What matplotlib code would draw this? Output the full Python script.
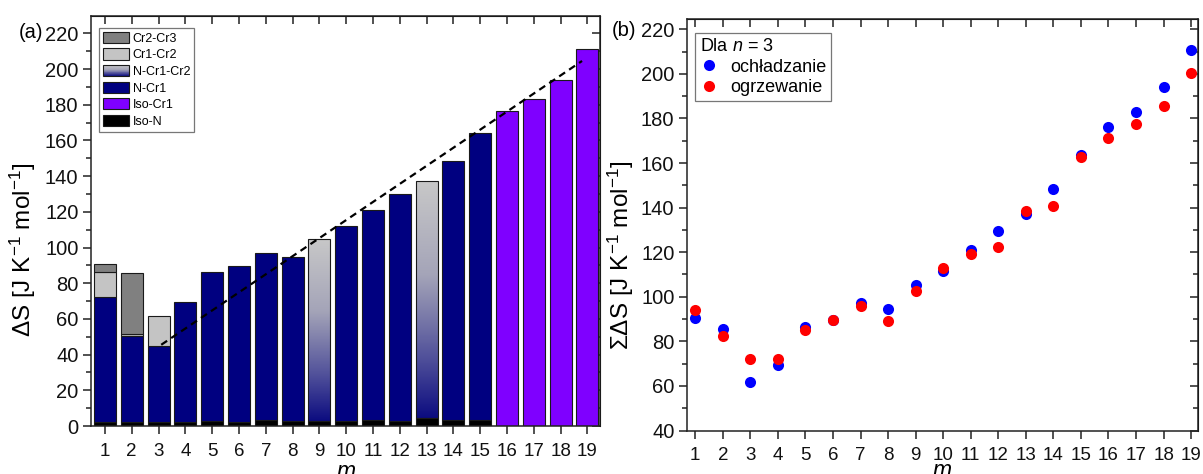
import numpy as np
import matplotlib
matplotlib.use("Agg")
import matplotlib.pyplot as plt
from matplotlib.patches import Patch, Rectangle
from matplotlib.colors import LinearSegmentedColormap
from matplotlib.legend_handler import HandlerBase
from matplotlib.ticker import MultipleLocator

plt.rcParams['font.family'] = ['Liberation Sans', 'DejaVu Sans']
plt.rcParams['mathtext.fontset'] = 'custom'
plt.rcParams['mathtext.rm'] = 'Liberation Sans'
plt.rcParams['mathtext.it'] = 'Liberation Sans:italic'

# ---- data -------------------------------------------------------------
m = np.arange(1, 20)

# stacked entropy contributions [J K^-1 mol^-1]
iso_n     = [2.0, 2.0, 2.5, 2.5, 3.0, 2.5, 3.5, 3.0, 3.0, 3.0, 3.5, 3.0, 4.5, 3.5, 3.5, 0, 0, 0, 0]
n_cr1     = [70.5, 48.5, 42.5, 67.0, 83.0, 87.0, 93.5, 91.5, 0, 109.0, 117.5, 127.0, 0, 145.0, 160.5, 0, 0, 0, 0]
n_cr1_cr2 = [0, 0, 0, 0, 0, 0, 0, 0, 102.0, 0, 0, 0, 133.0, 0, 0, 0, 0, 0, 0]
cr1_cr2   = [13.5, 1.3, 16.5, 0, 0, 0, 0, 0, 0, 0, 0, 0, 0, 0, 0, 0, 0, 0, 0]
cr2_cr3   = [4.5, 33.7, 0, 0, 0, 0, 0, 0, 0, 0, 0, 0, 0, 0, 0, 0, 0, 0, 0]
iso_cr1   = [0, 0, 0, 0, 0, 0, 0, 0, 0, 0, 0, 0, 0, 0, 0, 176.2, 183.3, 194.0, 211.0]

# trend line for the N-Cr1 branch
trend_m  = [3.1, 18.8]
trend_dS = [45.5, 204.5]

# total entropy for n = 3
cooling = [90.5, 85.5, 61.8, 69.3, 86.5, 89.5, 97.3, 94.6, 105.3, 111.5,
           121.0, 129.5, 137.0, 148.3, 163.8, 176.0, 183.0, 194.0, 210.5]
heating = [94.0, 82.2, 72.0, 72.0, 85.0, 89.5, 95.8, 89.2, 102.7, 112.8,
           119.3, 122.5, 138.3, 140.7, 162.5, 171.0, 177.5, 185.5, 200.5]

# ---- styling ------------------------------------------------------------
C_CR23 = '#808080'
C_CR12 = '#c4c4c4'
C_NCR1 = '#000080'
C_ISOCR1 = '#7f00ff'
C_ISON = '#000000'
EDGE = '#1a1a1a'
grad_cmap = LinearSegmentedColormap.from_list(
    'ncr', [(0.0, '#0c0c80'), (0.25, '#50509a'), (0.6, '#a4a4b8'), (1.0, '#c8c8c8')])

W, H = 1203, 474
fig = plt.figure(figsize=(W / 100, H / 100), dpi=100)


def px_axes(l, t, r, b):
    return fig.add_axes([l / W, 1 - b / H, (r - l) / W, (b - t) / H])


def style_axes(ax):
    for s in ax.spines.values():
        s.set_linewidth(1.1)
        s.set_color('#222222')
    ax.tick_params(axis='both', which='major', direction='out', length=6, width=1.1,
                   colors='#222222', labelcolor='#111111')
    ax.tick_params(axis='both', which='minor', direction='out', length=3.5, width=1.1,
                   colors='#222222')
    ax.tick_params(axis='x', labelsize=13.5, pad=6)
    ax.tick_params(axis='y', labelsize=14.5, pad=3)
    top = ax.secondary_xaxis('top')
    top.set_xticks(ax.get_xticks())
    top.tick_params(direction='in', length=6, width=1.1, labeltop=False, colors='#222222')
    right = ax.secondary_yaxis('right')
    right.yaxis.set_major_locator(MultipleLocator(20))
    right.yaxis.set_minor_locator(MultipleLocator(10))
    right.tick_params(which='major', direction='in', length=6, width=1.1, labelright=False,
                      colors='#222222')
    right.tick_params(which='minor', direction='in', length=3.5, width=1.1, colors='#222222')


class GradientHandler(HandlerBase):
    def create_artists(self, legend, orig_handle, xdescent, ydescent, width, height,
                       fontsize, trans):
        n = 24
        arts = []
        for i in range(n):
            arts.append(Rectangle((-xdescent, -ydescent + i * height / n), width,
                                  height / n + 0.3, facecolor=grad_cmap(i / (n - 1)),
                                  edgecolor='none', lw=0, transform=trans))
        arts.append(Rectangle((-xdescent, -ydescent), width, height, facecolor='none',
                              edgecolor=EDGE, lw=0.8, transform=trans))
        return arts


# ---- (a) stacked bars ---------------------------------------------------
ax1 = px_axes(91, 16, 600, 426)
bw = 0.82
kw = dict(width=bw, edgecolor=EDGE, linewidth=0.8, zorder=2)
bottom = np.zeros(len(m))
layers = [(iso_n, C_ISON), (n_cr1, C_NCR1), (None, None), (cr1_cr2, C_CR12),
          (cr2_cr3, C_CR23), (iso_cr1, C_ISOCR1)]
for vals, col in layers:
    if vals is None:
        vals = np.array(n_cr1_cr2, float)
        for xi, b, h in zip(m, bottom, vals):
            if h <= 0:
                continue
            bar = ax1.bar(xi, h, bottom=b, facecolor='none', **kw)[0]
            grad = np.linspace(0, 1, 256).reshape(-1, 1)
            im = ax1.imshow(grad, cmap=grad_cmap, origin='lower', aspect='auto',
                            extent=[xi - bw / 2, xi + bw / 2, b, b + h], zorder=1.5)
            im.set_clip_path(bar)
        bottom = bottom + vals
        continue
    vals = np.array(vals, float)
    mask = vals > 0
    ax1.bar(m[mask], vals[mask], bottom=bottom[mask], facecolor=col, **kw)
    bottom = bottom + vals

ax1.plot(trend_m, trend_dS, ls=(0, (3.2, 2.2)), color='black', lw=1.6, zorder=3)

ax1.set_xlim(0.48, 19.47)
ax1.set_ylim(0, 229.7)
ax1.set_xticks(m)
ax1.yaxis.set_major_locator(MultipleLocator(20))
ax1.yaxis.set_minor_locator(MultipleLocator(10))
style_axes(ax1)
ax1.set_xlabel('$m$', fontsize=16.5)
ax1.xaxis.set_label_coords(0.5, -0.083)
ax1.set_ylabel(r'$\Delta$S [J K$^{-1}$ mol$^{-1}$]', fontsize=17.5)
ax1.yaxis.set_label_coords(-0.104, 0.43)
fig.text(19 / W, 1 - 33 / H, '(a)', fontsize=14.5, va='center', ha='left')

handles = [Patch(facecolor=C_CR23, edgecolor=EDGE, lw=0.8, label='Cr2-Cr3'),
           Patch(facecolor=C_CR12, edgecolor=EDGE, lw=0.8, label='Cr1-Cr2'),
           Patch(facecolor='none', label='N-Cr1-Cr2'),
           Patch(facecolor=C_NCR1, edgecolor=EDGE, lw=0.8, label='N-Cr1'),
           Patch(facecolor=C_ISOCR1, edgecolor=EDGE, lw=0.8, label='Iso-Cr1'),
           Patch(facecolor=C_ISON, edgecolor=EDGE, lw=0.8, label='Iso-N')]
leg1 = ax1.legend(handles=handles, handler_map={handles[2]: GradientHandler()},
                  loc='upper left', bbox_to_anchor=(99 / W, 1 - 28 / H),
                  bbox_transform=fig.transFigure, fontsize=9, frameon=True,
                  fancybox=False, framealpha=1, edgecolor='#777777',
                  handlelength=2.1, handleheight=1.0, handletextpad=0.3,
                  labelspacing=0.3, borderpad=0.3, borderaxespad=0)
leg1.get_frame().set_linewidth(0.9)

# ---- (b) total entropy --------------------------------------------------
ax2 = px_axes(687, 19, 1198, 430.5)
ax2.plot(m, cooling, 'o', color='#0000ff', ms=8, mec='none', label='ochładzanie', zorder=3)
ax2.plot(m, heating, 'o', color='#ff0000', ms=8, mec='none', label='ogrzewanie', zorder=4)
ax2.set_xlim(0.7, 19.25)
ax2.set_ylim(40, 224.6)
ax2.set_xticks(m)
ax2.yaxis.set_major_locator(MultipleLocator(20))
ax2.yaxis.set_minor_locator(MultipleLocator(10))
style_axes(ax2)
ax2.set_xlabel('$m$', fontsize=16.5)
ax2.xaxis.set_label_coords(0.5, -0.07)
ax2.set_ylabel(r'$\Sigma\Delta$S [J K$^{-1}$ mol$^{-1}$]', fontsize=17.5)
ax2.yaxis.set_label_coords(-0.100, 0.425)
fig.text(612 / W, 1 - 30 / H, '(b)', fontsize=14.5, va='center', ha='left')

leg2 = ax2.legend(loc='upper left', bbox_to_anchor=(695 / W, 1 - 33 / H),
                  bbox_transform=fig.transFigure, title='Dla $n$ = 3',
                  fontsize=13, title_fontsize=13, alignment='left', frameon=True,
                  fancybox=False, framealpha=1, edgecolor='#777777',
                  handlelength=1.0, handletextpad=0.7, labelspacing=0.2,
                  borderpad=0.25, borderaxespad=0)
leg2.get_frame().set_linewidth(0.9)
leg2._legend_box.sep = 3

fig.savefig('out.png', dpi=100)
